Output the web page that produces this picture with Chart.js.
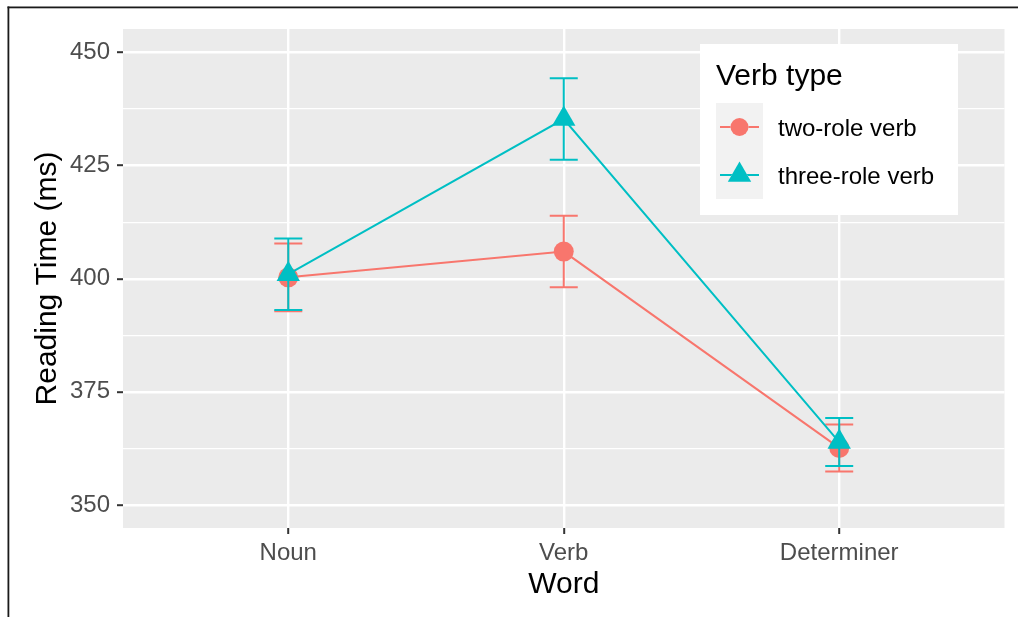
<!DOCTYPE html>
<html>
<head>
<meta charset="utf-8">
<title>Reading Time by Word and Verb type</title>
<script src="https://cdn.jsdelivr.net/npm/chart.js@4/dist/chart.umd.min.js"></script>
<style>
  html, body { margin: 0; padding: 0; background: #ffffff; }
  #wrap { width: 1018px; height: 617px; }
</style>
</head>
<body>
<div id="wrap"><canvas id="chart" width="1018" height="617"></canvas></div>
<script>
// Word positions along the x axis
const words = ['Noun', 'Verb', 'Determiner'];

// Mean reading times (ms) and standard errors per verb type
const twoRoleMeans = [400.3, 406.0, 362.6];
const twoRoleSE = [7.5, 7.9, 5.2];
const threeRoleMeans = [401.0, 435.3, 363.9];
const threeRoleSE = [7.9, 9.0, 5.3];

// Labelled y ticks; minor grid lines sit halfway between them
const yMajorTicks = [350, 375, 400, 425, 450];

const seriesNames = ['two-role verb', 'three-role verb'];
const legendTitle = 'Verb type';
const xTitle = 'Word';
const yTitle = 'Reading Time (ms)';

const RED = '#F8766D';
const TEAL = '#00BFC4';
const FONT = '"Liberation Sans", Arial, Helvetica, sans-serif';

const yAllTicks = [];
yMajorTicks.forEach((v, i) => {
  yAllTicks.push(v);
  if (i < yMajorTicks.length - 1) yAllTicks.push((v + yMajorTicks[i + 1]) / 2);
});
const isMajor = v => yMajorTicks.indexOf(v) !== -1;

const toPoints = arr => arr.map((v, i) => ({ x: i, y: v }));

// grey panel behind the plotting area
const panelBackground = {
  id: 'panelBackground',
  beforeDraw(chart) {
    const { ctx, chartArea: a } = chart;
    ctx.save();
    ctx.fillStyle = '#EBEBEB';
    ctx.fillRect(a.left, a.top, a.right - a.left, a.bottom - a.top);
    ctx.restore();
  }
};

// vertical error bars with caps, drawn just beneath each dataset's own line
const errorBars = {
  id: 'errorBars',
  beforeDatasetDraw(chart, args) {
    const ds = chart.data.datasets[args.index];
    if (!ds.errors) return;
    const { ctx, scales: { x, y } } = chart;
    const half = 14;
    ctx.save();
    ctx.strokeStyle = ds.borderColor;
    ctx.lineWidth = 2;
    ds.data.forEach((p, i) => {
      const px = x.getPixelForValue(p.x);
      const hi = y.getPixelForValue(p.y + ds.errors[i]);
      const lo = y.getPixelForValue(p.y - ds.errors[i]);
      ctx.beginPath();
      ctx.moveTo(px, hi); ctx.lineTo(px, lo);
      ctx.moveTo(px - half, hi); ctx.lineTo(px + half, hi);
      ctx.moveTo(px - half, lo); ctx.lineTo(px + half, lo);
      ctx.stroke();
    });
    ctx.restore();
  }
};

// legend box placed inside the panel, top right
const insideLegend = {
  id: 'insideLegend',
  afterDraw(chart) {
    const { ctx } = chart;
    const bx = 700, by = 44, bw = 258, bh = 171;
    ctx.save();
    ctx.fillStyle = '#FFFFFF';
    ctx.fillRect(bx, by, bw, bh);
    ctx.fillStyle = '#000000';
    ctx.font = '30px ' + FONT;
    ctx.textBaseline = 'alphabetic';
    ctx.textAlign = 'left';
    ctx.fillText(legendTitle, 716, 85);
    const keyX = 716, keyW = 47, keyH = 48, keyTop = 103;
    chart.data.datasets.forEach((ds, i) => {
      const ky = keyTop + i * keyH;
      ctx.fillStyle = '#F2F2F2';
      ctx.fillRect(keyX, ky, keyW, keyH);
      const cy = ky + keyH / 2;
      const cx = keyX + keyW / 2;
      ctx.strokeStyle = ds.borderColor;
      ctx.lineWidth = 2;
      ctx.beginPath();
      ctx.moveTo(keyX + 4, cy); ctx.lineTo(keyX + keyW - 4, cy);
      ctx.stroke();
      Chart.helpers.drawPoint(ctx, {
        pointStyle: ds.pointStyle,
        radius: ds.pointStyle === 'circle' ? 9 : 13.5,
        borderWidth: 0,
        rotation: 0
      }, cx, cy);
      ctx.fillStyle = ds.backgroundColor;
      ctx.fill();
      ctx.fillStyle = '#000000';
      ctx.font = '24px ' + FONT;
      ctx.textBaseline = 'middle';
      ctx.fillText(ds.label, 778, cy + 2);
    });
    ctx.restore();
  }
};

// thin frame along the top and left edges of the figure
const figureFrame = {
  id: 'figureFrame',
  afterDraw(chart) {
    const { ctx, width, height } = chart;
    ctx.save();
    ctx.fillStyle = '#1A1A1A';
    ctx.fillRect(7.5, 6.5, width - 7.5, 1.8);
    ctx.fillRect(7.5, 6.5, 1.8, height - 6.5);
    ctx.restore();
  }
};

new Chart(document.getElementById('chart'), {
  type: 'line',
  data: {
    datasets: [
      {
        label: seriesNames[0],
        data: toPoints(twoRoleMeans),
        errors: twoRoleSE,
        borderColor: RED,
        backgroundColor: RED,
        borderWidth: 2,
        pointStyle: 'circle',
        pointRadius: 10,
        pointBorderWidth: 0,
        pointBackgroundColor: RED,
        tension: 0,
        order: 1
      },
      {
        label: seriesNames[1],
        data: toPoints(threeRoleMeans),
        errors: threeRoleSE,
        borderColor: TEAL,
        backgroundColor: TEAL,
        borderWidth: 2,
        pointStyle: 'triangle',
        pointRadius: 13.5,
        pointBorderWidth: 0,
        pointBackgroundColor: TEAL,
        tension: 0,
        order: 0
      }
    ]
  },
  options: {
    responsive: false,
    animation: false,
    events: [],
    layout: { padding: { top: 29, right: 13, bottom: 0, left: 0 } },
    plugins: {
      legend: { display: false },
      tooltip: { enabled: false }
    },
    scales: {
      x: {
        type: 'linear',
        min: -0.6,
        max: 2.6,
        afterBuildTicks(scale) {
          scale.ticks = words.map((w, i) => ({ value: i }));
        },
        afterFit(scale) { scale.height = 617 - 528; },
        border: { display: false },
        grid: {
          color: '#FFFFFF',
          lineWidth: 2.4,
          drawTicks: true,
          tickLength: 6,
          tickColor: '#333333',
          tickWidth: 2
        },
        ticks: {
          padding: 5,
          color: '#4D4D4D',
          font: { family: FONT, size: 24 },
          maxRotation: 0,
          autoSkip: false,
          callback: v => words[v]
        },
        title: {
          display: true,
          text: xTitle,
          color: '#000000',
          font: { family: FONT, size: 30 },
          padding: { top: 0, bottom: 14 }
        }
      },
      y: {
        type: 'linear',
        min: 344.9,
        max: 455.2,
        afterBuildTicks(scale) {
          scale.ticks = yAllTicks.map(v => ({ value: v }));
        },
        afterFit(scale) { scale.width = 123; },
        border: { display: false },
        grid: {
          color: '#FFFFFF',
          lineWidth: ctx => (isMajor(ctx.tick.value) ? 2.4 : 1.2),
          drawTicks: true,
          tickLength: 6,
          tickColor: ctx => (isMajor(ctx.tick.value) ? '#333333' : 'rgba(0,0,0,0)'),
          tickWidth: 2
        },
        ticks: {
          padding: 7,
          color: '#4D4D4D',
          font: { family: FONT, size: 24 },
          autoSkip: false,
          callback: v => (isMajor(v) ? String(v) : '')
        },
        title: {
          display: true,
          text: yTitle,
          color: '#000000',
          font: { family: FONT, size: 30 },
          padding: { top: 30, bottom: 0 }
        }
      }
    }
  },
  plugins: [panelBackground, errorBars, insideLegend, figureFrame]
});
</script>
</body>
</html>
